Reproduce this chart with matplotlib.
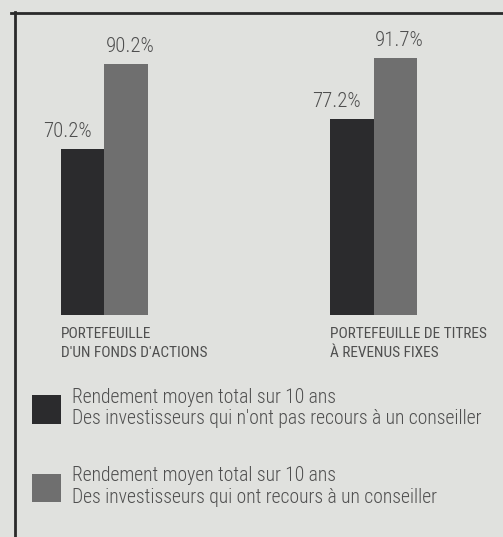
import matplotlib
matplotlib.use("Agg")
import matplotlib.pyplot as plt
import numpy as np
from matplotlib.lines import Line2D

# data
categories = ["PORTEFEUILLE\nD'UN FONDS D'ACTIONS", "PORTEFEUILLE DE TITRES\nÀ REVENUS FIXES"]
sans_conseiller = [70.2, 77.2]
avec_conseiller = [90.2, 91.7]
series_labels = [
    "Rendement moyen total sur 10 ans\nDes investisseurs qui n'ont pas recours à un conseiller",
    "Rendement moyen total sur 10 ans\nDes investisseurs qui ont recours à un conseiller",
]

BG = "#e0e1de"
DARK = "#2b2b2d"
GREY = "#6f6f6f"
TXT = "#4f4f4f"
FONT = ["Roboto Condensed", "DejaVu Sans"]

W, H = 503, 537
fig = plt.figure(figsize=(W / 100, H / 100), dpi=100, facecolor=BG)
ax = fig.add_axes([0, (H - 315) / H, 1, 315 / H])
ax.set_facecolor(BG)

x = np.arange(len(categories))
w = 0.1614
b1 = ax.bar(x - w / 2, sans_conseiller, w, color=DARK, label=series_labels[0])
b2 = ax.bar(x + w / 2, avec_conseiller, w, color=GREY, label=series_labels[1])
ax.set_xlim(-0.386, 1.4805)
ax.set_ylim(31, 31 + 315 / 4.24)

# value labels
for bars, vals, dx in [(b1, sans_conseiller, -11), (b2, avec_conseiller, 3)]:
    for rect, v in zip(bars, vals):
        ax.annotate(f"{v}%", (rect.get_x() + rect.get_width() / 2, v), xytext=(dx, 12.5),
                    textcoords="offset points", ha="center", va="center",
                    fontsize=15, color=TXT, family=FONT, weight="light")

ax.set_xticks(x - w, categories, ha="left")
ax.tick_params(axis="x", length=0, pad=9)
for t in ax.get_xticklabels():
    t.set_fontfamily(FONT)
    t.set_fontsize(11.1)
    t.set_color(TXT)
    t.set_linespacing(1.45)
ax.set_yticks([])
for s in ax.spines.values():
    s.set_visible(False)

leg = ax.legend(handles=[b1, b2], loc="upper left", bbox_to_anchor=(32 / W, 1 - 388 / H),
                bbox_transform=fig.transFigure, frameon=False, borderpad=0, borderaxespad=0,
                handlelength=1.49, handleheight=1.85, handletextpad=0.55,
                labelspacing=1.95, prop={"family": FONT, "size": 14.1, "weight": "light"})
for t in leg.get_texts():
    t.set_color(TXT)
    t.set_linespacing(1.15)

# frame (top and left rules)
fig.add_artist(Line2D([11 / W, 1], [1 - 13 / H] * 2, color="#2a2a2a", lw=2))
fig.add_artist(Line2D([15 / W] * 2, [0, 1 - 12 / H], color="#2a2a2a", lw=2))

fig.savefig("out.png", facecolor=BG)
